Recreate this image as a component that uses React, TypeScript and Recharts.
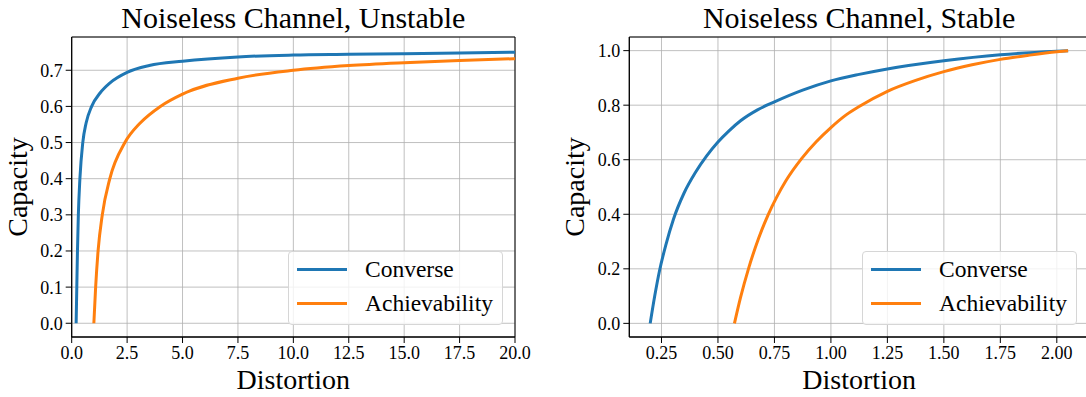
import { LineChart, Line, XAxis, YAxis, CartesianGrid, ReferenceArea } from 'recharts';

const SERIF = '"Liberation Serif", "Times New Roman", serif';
const BLUE = '#1f77b4';
const ORANGE = '#ff7f0e';

// Noiseless Channel, Unstable
const unstableConverseX = [0.2, 0.23, 0.26, 0.3, 0.37, 0.5, 0.65, 0.9, 1.28, 1.73, 2.5, 3.5, 5, 7.5, 10, 12.5, 15, 17.5, 20];
const unstableConverseY = [0, 0.1, 0.2, 0.3, 0.4, 0.5, 0.554, 0.6, 0.637, 0.665, 0.694, 0.713, 0.725, 0.737, 0.742, 0.744, 0.746, 0.748, 0.75];
const unstableAchX = [1.0, 1.08, 1.19, 1.38, 1.72, 2.4, 3.09, 4.0, 5, 7.5, 10, 12.5, 15, 17.5, 20];
const unstableAchY = [0, 0.1, 0.2, 0.3, 0.4, 0.5, 0.554, 0.6, 0.634, 0.678, 0.7, 0.713, 0.721, 0.727, 0.732];
const unstableXTicks = [0, 2.5, 5, 7.5, 10, 12.5, 15, 17.5, 20];
const unstableYTicks = [0, 0.1, 0.2, 0.3, 0.4, 0.5, 0.6, 0.7];

// Noiseless Channel, Stable
const stableConverseX = [0.2, 0.22, 0.241, 0.27, 0.303, 0.35, 0.4, 0.45, 0.5, 0.55, 0.6, 0.675, 0.75, 0.875, 1.0, 1.125, 1.25, 1.5, 1.75, 2.0, 2.05];
const stableConverseY = [0, 0.1, 0.192, 0.29, 0.382, 0.478, 0.553, 0.614, 0.665, 0.707, 0.743, 0.783, 0.812, 0.855, 0.889, 0.913, 0.933, 0.963, 0.985, 0.998, 1.0];
const stableAchX = [0.573, 0.6, 0.635, 0.68, 0.723, 0.76, 0.8, 0.871, 0.935, 1.0, 1.06, 1.125, 1.25, 1.375, 1.5, 1.625, 1.75, 1.875, 2.0, 2.05];
const stableAchY = [0, 0.095, 0.2, 0.312, 0.4, 0.463, 0.522, 0.605, 0.666, 0.718, 0.76, 0.795, 0.851, 0.891, 0.923, 0.948, 0.968, 0.983, 0.996, 1.0];
const stableXTicks = [0.25, 0.5, 0.75, 1.0, 1.25, 1.5, 1.75, 2.0];
const stableYTicks = [0, 0.2, 0.4, 0.6, 0.8, 1.0];

const seriesNames = ['Converse', 'Achievability'];

const toPoints = (xs: number[], ys: number[]) => xs.map((x, i) => ({ x, y: ys[i] }));

function AxisTick(props: any) {
  const { x, y, payload, textAnchor, digits, vertical } = props;
  return (
    <text
      x={x}
      y={y}
      dy={vertical ? '0.355em' : '0.71em'}
      textAnchor={textAnchor}
      fontFamily={SERIF}
      fontSize={18}
      fill="#000"
    >
      {Number(payload.value).toFixed(digits)}
    </text>
  );
}

function LegendBox({ left, top }: { left: number; top: number }) {
  const colors = [BLUE, ORANGE];
  return (
    <div
      style={{
        position: 'absolute',
        left,
        top,
        width: 215,
        height: 74,
        boxSizing: 'border-box',
        border: '1px solid #d6d6d6',
        borderRadius: 4,
        background: 'rgba(255,255,255,0.8)',
      }}
    >
      {seriesNames.map((name, i) => (
        <div key={name} style={{ position: 'absolute', left: 0, top: 17 + i * 34 - 15, height: 30, width: '100%' }}>
          <div style={{ position: 'absolute', left: 8, top: 14, width: 50, height: 3, background: colors[i] }} />
          <div
            style={{
              position: 'absolute',
              left: 76,
              top: 0,
              lineHeight: '30px',
              fontSize: 23.5,
              color: '#000',
              whiteSpace: 'nowrap',
            }}
          >
            {name}
          </div>
        </div>
      ))}
    </div>
  );
}

interface PanelProps {
  title: string;
  width: number;
  margin: { top: number; right: number; bottom: number; left: number };
  xDomain: [number, number];
  yDomain: [number, number];
  xTicks: number[];
  yTicks: number[];
  xDigits: number;
  converse: { x: number; y: number }[];
  achievability: { x: number; y: number }[];
  titleX: number;
  yLabelX: number;
  xLabelX: number;
}

function Panel(p: PanelProps) {
  return (
    <LineChart width={p.width} height={397} margin={p.margin} style={{ fontFamily: SERIF }}>
      <CartesianGrid stroke="#b0b0b0" strokeWidth={0.8} />
      <XAxis
        type="number"
        dataKey="x"
        domain={p.xDomain}
        ticks={p.xTicks}
        allowDataOverflow
        height={30}
        tick={(t: any) => <AxisTick {...t} digits={p.xDigits} />}
        tickSize={6}
        tickMargin={3}
        axisLine={{ stroke: '#000' }}
        tickLine={{ stroke: '#000' }}
        interval={0}
      />
      <YAxis
        type="number"
        dataKey="y"
        domain={p.yDomain}
        ticks={p.yTicks}
        allowDataOverflow
        width={50}
        tick={(t: any) => <AxisTick {...t} digits={1} vertical />}
        tickSize={6}
        tickMargin={3}
        axisLine={{ stroke: '#000' }}
        tickLine={{ stroke: '#000' }}
        interval={0}
      />
      <ReferenceArea
        x1={p.xDomain[0]}
        x2={p.xDomain[1]}
        y1={p.yDomain[0]}
        y2={p.yDomain[1]}
        fill="none"
        fillOpacity={0}
        stroke="#000"
        strokeWidth={1}
      />
      <Line
        data={p.converse}
        dataKey="y"
        name={seriesNames[0]}
        type="monotone"
        stroke={BLUE}
        strokeWidth={3}
        dot={false}
        isAnimationActive={false}
      />
      <Line
        data={p.achievability}
        dataKey="y"
        name={seriesNames[1]}
        type="monotone"
        stroke={ORANGE}
        strokeWidth={3}
        dot={false}
        isAnimationActive={false}
      />
      <text x={p.titleX} y={28} textAnchor="middle" fontSize={30} fontFamily={SERIF} fill="#000">
        {p.title}
      </text>
      <text x={p.xLabelX} y={389} textAnchor="middle" fontSize={28} fontFamily={SERIF} fill="#000">
        Distortion
      </text>
      <text
        transform={`translate(${p.yLabelX},187) rotate(-90)`}
        textAnchor="middle"
        fontSize={28}
        fontFamily={SERIF}
        fill="#000"
      >
        Capacity
      </text>
    </LineChart>
  );
}

export default function App() {
  return (
    <div
      style={{
        position: 'absolute',
        left: 0,
        top: 0,
        width: 1086,
        height: 397,
        overflow: 'hidden',
        background: '#fff',
        fontFamily: SERIF,
      }}
    >
      <div style={{ position: 'absolute', left: 0, top: 0 }}>
        <Panel
          title="Noiseless Channel, Unstable"
          width={543}
          margin={{ top: 37, right: 28, bottom: 30, left: 21.7 }}
          xDomain={[0, 20]}
          yDomain={[-0.038, 0.792]}
          xTicks={unstableXTicks}
          yTicks={unstableYTicks}
          xDigits={1}
          converse={toPoints(unstableConverseX, unstableConverseY)}
          achievability={toPoints(unstableAchX, unstableAchY)}
          titleX={293.35}
          yLabelX={27}
          xLabelX={293.35}
        />
      </div>
      <div style={{ position: 'absolute', left: 543, top: 0 }}>
        <Panel
          title="Noiseless Channel, Stable"
          width={560}
          margin={{ top: 37, right: 14, bottom: 30, left: 36.3 }}
          xDomain={[0.1075, 2.1425]}
          yDomain={[-0.05, 1.05]}
          xTicks={stableXTicks}
          yTicks={stableYTicks}
          xDigits={2}
          converse={toPoints(stableConverseX, stableConverseY)}
          achievability={toPoints(stableAchX, stableAchY)}
          titleX={316.15}
          yLabelX={41}
          xLabelX={316.15}
        />
      </div>
      <LegendBox left={288} top={251} />
      <LegendBox left={862} top={251} />
    </div>
  );
}
